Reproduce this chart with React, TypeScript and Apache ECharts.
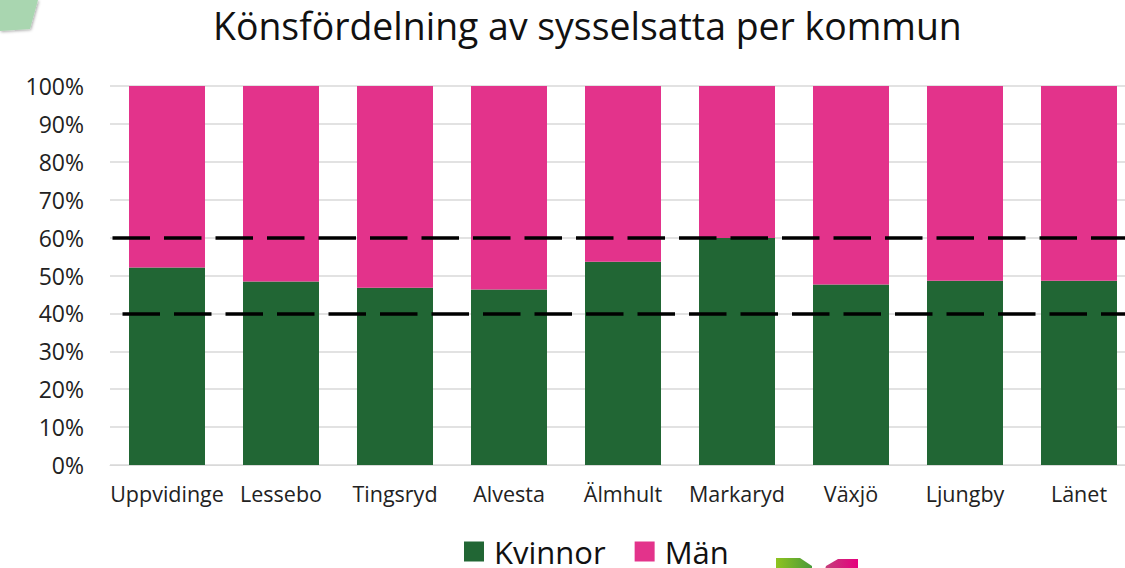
import React, { useEffect, useRef } from "react";
import * as echarts from "echarts";

const categories = ["Uppvidinge", "Lessebo", "Tingsryd", "Alvesta", "Älmhult", "Markaryd", "Växjö", "Ljungby", "Länet"];
const kvinnor = [52.1, 48.4, 46.8, 46.3, 53.6, 59.9, 47.6, 48.6, 48.6];
const man = kvinnor.map((v) => +(100 - v).toFixed(1));
const refLines = [60, 40];

const FONT = "'Open Sans', 'Noto Sans', sans-serif";

export default function App() {
  const ref = useRef<HTMLDivElement>(null);
  useEffect(() => {
    if (!ref.current) return;
    const chart = echarts.init(ref.current, null, { renderer: "svg" });
    chart.setOption({
      animation: false,
      textStyle: { fontFamily: FONT },
      title: {
        text: "Könsfördelning av sysselsatta per kommun",
        left: 208,
        top: 2,
        textStyle: { fontFamily: FONT, fontSize: 37.4, fontWeight: "normal", color: "#111" },
      },
      legend: {
        data: ["Kvinnor", "Män"],
        left: 459,
        top: 531,
        itemWidth: 20,
        itemHeight: 20,
        itemGap: 29,
        icon: "rect",
        textStyle: { fontFamily: FONT, fontSize: 31, color: "#111", padding: [0, 0, 0, 5] },
      },
      grid: { left: 110, top: 86, width: 1026, height: 379, containLabel: false },
      xAxis: {
        type: "category",
        data: categories,
        axisLine: { lineStyle: { color: "#d9d9d9", width: 1 } },
        axisTick: { show: false },
        axisLabel: { fontFamily: FONT, fontSize: 21.5, color: "#222", margin: 17, interval: 0 },
      },
      yAxis: {
        type: "value",
        min: 0,
        max: 100,
        interval: 10,
        axisLine: { show: false },
        axisTick: { show: false },
        splitLine: { lineStyle: { color: "#d9d9d9", width: 1.5 } },
        axisLabel: { fontFamily: FONT, fontSize: 23, color: "#222", margin: 26, formatter: "{value}%" },
      },
      series: [
        {
          name: "Kvinnor",
          type: "bar",
          stack: "a",
          data: kvinnor,
          barWidth: 76,
          itemStyle: { color: "#216634" },
          markLine: {
            silent: true,
            symbol: "none",
            label: { show: false },
            data: refLines.map((v, i) => ({
              yAxis: v,
              lineStyle: { color: "#000", width: 3.5, type: [37.5, 14], dashOffset: i === 0 ? 48.5 : 38.5 },
            })),
          },
        },
        {
          name: "Män",
          type: "bar",
          stack: "a",
          data: man,
          barWidth: 76,
          itemStyle: { color: "#e3338b" },
        },
      ],
      graphic: [
        {
          type: "polygon",
          shape: { points: [[0, 0], [38, 0], [30, 29], [0, 31]] },
          style: { fill: "#a9d6b0", shadowBlur: 3, shadowColor: "rgba(0,0,0,0.35)", shadowOffsetX: 1, shadowOffsetY: 1 },
        },
        {
          type: "polygon",
          shape: { points: [[776, 580], [776, 558], [800, 558], [812, 566], [812, 580]] },
          style: {
            fill: new echarts.graphic.LinearGradient(0, 0, 1, 0, [
              { offset: 0, color: "#8fc31f" },
              { offset: 1, color: "#4a9a3a" },
            ]),
          },
        },
        {
          type: "polygon",
          shape: { points: [[822, 580], [826, 566], [838, 559], [858, 559], [858, 580]] },
          style: {
            fill: new echarts.graphic.LinearGradient(0, 0, 1, 0, [
              { offset: 0, color: "#c0457a" },
              { offset: 1, color: "#e6007e" },
            ]),
          },
        },
      ],
    });
    return () => chart.dispose();
  }, []);
  return (
    <div style={{ width: 1125, height: 568, position: "absolute", left: 0, top: 0, overflow: "hidden" }}>
      <div ref={ref} style={{ width: 1140, height: 568 }} />
    </div>
  );
}
